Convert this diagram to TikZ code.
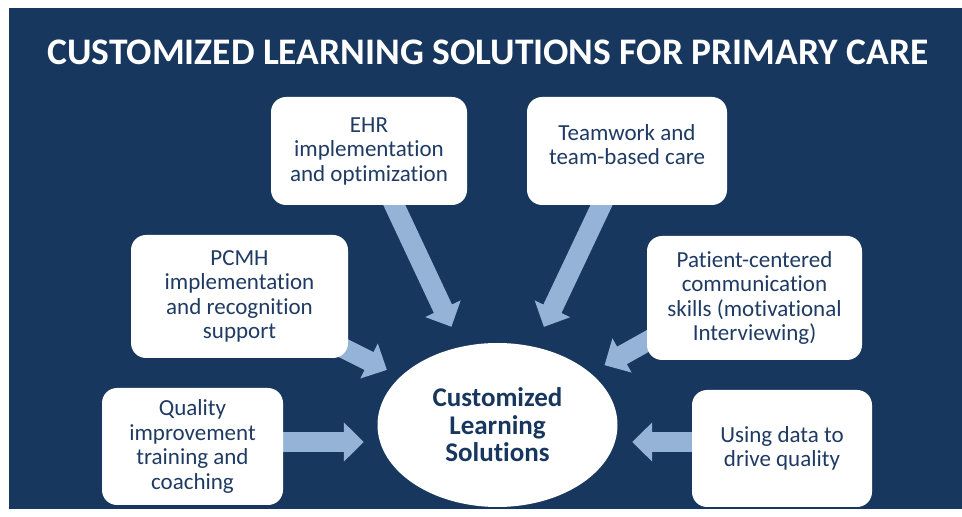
\documentclass[tikz,border=0pt]{standalone}
\usepackage{fontspec}
\setmainfont{Carlito}[Ligatures=NoCommon]
\usepackage{xcolor}
\usepackage{tikz}
\usetikzlibrary{calc,arrows.meta,shapes.geometric}
\definecolor{navy}{HTML}{17375E}
\definecolor{ink}{HTML}{1F3B63}
\definecolor{paper}{HTML}{FFFFFF}
\definecolor{pale}{HTML}{95B3D7}
\pgfdeclarelayer{back}
\pgfdeclarelayer{flows}
\pgfsetlayers{back,flows,main}
\tikzset{
  topic/.style={draw=none, fill=paper, rounded corners=15pt, align=center,
    text=ink, font=\fontsize{23}{24.5}\selectfont, inner sep=0pt},
  core/.style={ellipse, fill=paper, inner sep=0pt, align=center, text=navy,
    minimum width=240pt, minimum height=164pt,
    font=\fontsize{27}{27.5}\selectfont\bfseries},
  flow/.style={draw=pale, line width=20pt,
    -{Triangle[width=38pt,length=20pt]}},
  headline/.style={text=paper, font=\fontsize{37.5}{40}\selectfont\bfseries},
}

\begin{document}
\begin{tikzpicture}[x=1pt,y=1pt]
  \useasboundingbox (0,0) rectangle (962,517);
  \begin{pgfonlayer}{back}
    \fill[paper] (0,0) rectangle (962,517);
    \fill[navy] (9,8) rectangle (962,509);
  \end{pgfonlayer}
  \node[headline] (title) at (488,465) {CUSTOMIZED LEARNING SOLUTIONS FOR PRIMARY CARE};
  \node[topic, minimum width=196pt, minimum height=108pt] (ehr) at (369,366)
    {EHR\\implementation\\and optimization};
  \node[topic, minimum width=200pt, minimum height=108pt] (team) at (627,366)
    {Teamwork and\\team-based care\\[-12pt]};
  \node[topic, minimum width=217pt, minimum height=123pt] (pcmh) at (239.5,220.5)
    {PCMH\\implementation\\and recognition\\support};
  \node[topic, minimum width=215pt, minimum height=124pt] (pat) at (754.5,219)
    {Patient-centered\\communication\\skills (motivational\\Interviewing)};
  \node[topic, minimum width=181pt, minimum height=117pt] (qual) at (192.5,70.5)
    {Quality\\improvement\\training and\\coaching};
  \node[topic, minimum width=180pt, minimum height=117pt] (data) at (782,68.5)
    {Using data to\\drive quality};
  \node[core] (hub) at (497.5,92) {Customized\\Learning\\Solutions};
  \coordinate (qualout) at ([yshift=4.5pt]qual.east);
  \coordinate (dataout) at ([yshift=6.5pt]data.west);
  \coordinate (patout) at ($(pat.west)!0.7!(pat.south west)$);
  \begin{pgfonlayer}{flows}
    \draw[flow, shorten <=-12pt, shorten >=22pt] (ehr) -- (hub);
    \draw[flow, shorten <=-12pt, shorten >=22pt] (team) -- (hub);
    \draw[flow, shorten <=-12pt, shorten >=15pt] (pcmh) -- (hub);
    \draw[flow, shorten <=-12pt, shorten >=16pt] (patout) -- (hub);
    \draw[flow, shorten <=-12pt, shorten >=13.5pt] (qualout) -- (qualout -| hub.west);
    \draw[flow, shorten <=-12pt, shorten >=14.5pt] (dataout) -- (dataout -| hub.east);
  \end{pgfonlayer}
\end{tikzpicture}
\end{document}
